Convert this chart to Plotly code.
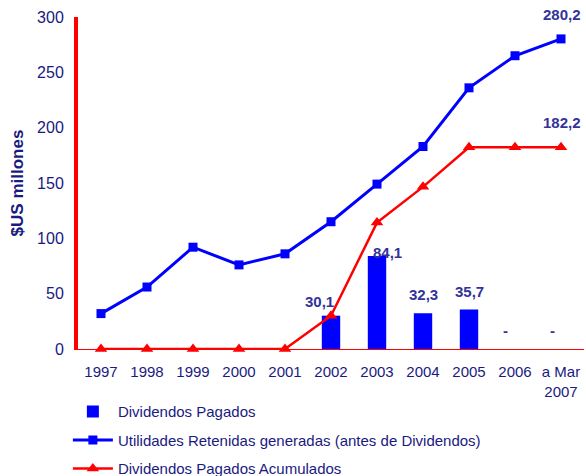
import plotly.graph_objects as go

categories = ["1997", "1998", "1999", "2000", "2001", "2002", "2003", "2004", "2005", "2006", "a Mar<br>2007"]
dividendos_pagados = [0, 0, 0, 0, 0, 30.1, 84.1, 32.3, 35.7, 0, 0]
utilidades_retenidas = [32, 56, 92, 76, 86, 115, 149, 183, 236, 265, 280.2]
dividendos_acumulados = [0, 0, 0, 0, 0, 30.1, 114.2, 146.5, 182.2, 182.2, 182.2]
bar_labels = ["", "", "", "", "", "30,1", "84,1", "32,3", "35,7", "-", "-"]
y_ticks = [0, 50, 100, 150, 200, 250, 300]

NAVY = "#1a1a80"
LABEL = "#333399"
FONT = "Liberation Sans, Arial"

fig = go.Figure()
fig.add_trace(go.Bar(
    x=categories, y=dividendos_pagados, name="Dividendos Pagados",
    marker=dict(color="#0000FF", line=dict(width=0)), width=0.4,
    legendgroup="a",
))
fig.add_trace(go.Scatter(
    x=categories, y=utilidades_retenidas, mode="lines+markers",
    name="Utilidades Retenidas generadas (antes de Dividendos)",
    line=dict(color="#0000FF", width=3),
    marker=dict(symbol="square", size=9, color="#0000FF"),
    cliponaxis=False, legendgroup="b",
))
fig.add_trace(go.Scatter(
    x=categories, y=dividendos_acumulados, mode="lines+markers",
    name="Dividendos Pagados Acumulados",
    line=dict(color="#FF0000", width=2.5),
    marker=dict(symbol="triangle-up", size=11, color="#FF0000"),
    cliponaxis=False, legendgroup="c",
))

shifts = {5: (-12, 14), 6: (10, 3), 7: (0, 19), 8: (0, 18), 9: (-10, 19), 10: (-9, 19)}
for i, lab in enumerate(bar_labels):
    if not lab:
        continue
    xs, ys = shifts[i]
    fig.add_annotation(x=i, y=dividendos_pagados[i], text=lab,
                       showarrow=False, xshift=xs, yshift=ys,
                       font=dict(family=FONT, size=15, color=LABEL, weight="bold"))

last = len(categories) - 1
fig.add_annotation(x=last, y=utilidades_retenidas[-1], text="280,2",
                   showarrow=False, xshift=1, yshift=24,
                   font=dict(family=FONT, size=15, color=LABEL, weight="bold"))
fig.add_annotation(x=last, y=dividendos_acumulados[-1], text="182,2",
                   showarrow=False, xshift=1, yshift=25,
                   font=dict(family=FONT, size=15, color=LABEL, weight="bold"))

fig.update_layout(
    width=586, height=476,
    margin=dict(l=78, r=2, t=17, b=127, autoexpand=False),
    paper_bgcolor="white", plot_bgcolor="white",
    font=dict(family=FONT, size=15, color=NAVY),
    showlegend=True,
    legend=dict(x=-0.02, y=-0.139, xanchor="left", yanchor="top",
                orientation="v", traceorder="grouped", tracegroupgap=6,
                itemwidth=40, font=dict(family=FONT, size=15, color=NAVY),
                bgcolor="rgba(0,0,0,0)"),
    xaxis=dict(type="category", range=[-0.5, 10.5], showline=True,
               linecolor="#FF0000", linewidth=1, ticks="", showgrid=False,
               automargin=False,
               tickfont=dict(family=FONT, size=15, color=NAVY), ticklabelstandoff=9),
    yaxis=dict(range=[0, 300], tickvals=y_ticks, showline=True,
               linecolor="#FF0000", linewidth=4, ticks="", showgrid=False,
               zeroline=False, automargin=False,
               tickfont=dict(family=FONT, size=16, color=NAVY),
               ticklabelstandoff=7,
               title=dict(text="$US millones", standoff=10,
                          font=dict(family=FONT, size=17, color=NAVY, weight="bold"))),
    bargap=0.6,
)

# remove the default 8px page margin so the figure fills the window exactly
fig.write_html(
    "out.html",
    config={"displayModeBar": False},
    post_script="document.body.style.margin='0';document.body.style.overflow='hidden';",
)
